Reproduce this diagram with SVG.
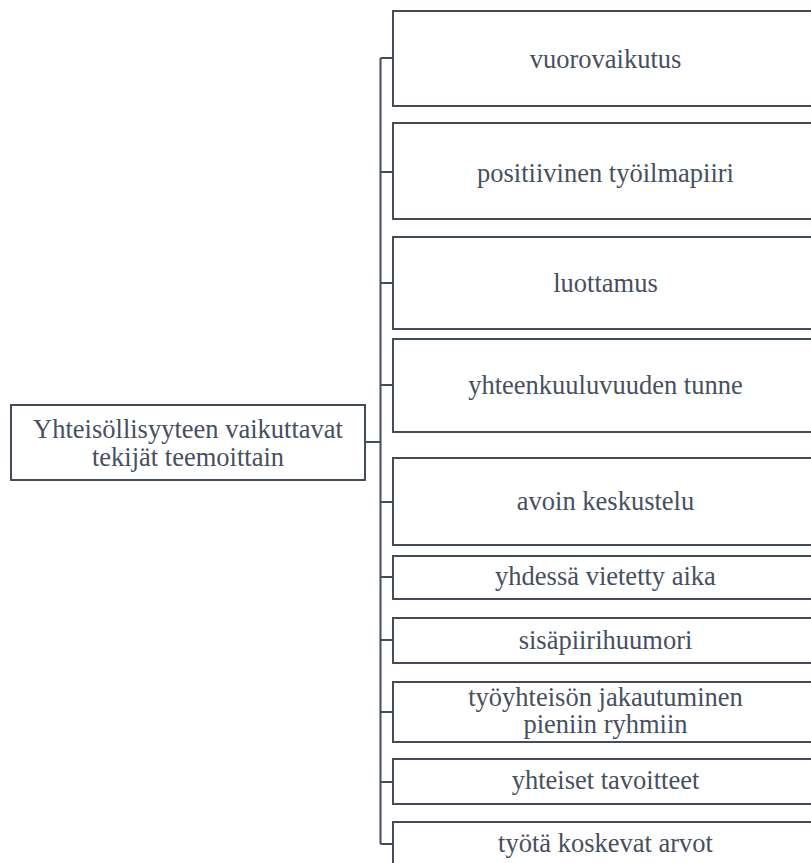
<svg xmlns="http://www.w3.org/2000/svg" width="811" height="863" viewBox="0 0 811 863">
<style>
.box{fill:#ffffff;stroke:#434c59;stroke-width:2}
.lbl{font-size:26.5px;fill:#465060;text-anchor:middle}
.conn{fill:none;stroke:#434c59;stroke-width:2}
</style>
<rect x="0" y="0" width="811" height="863" fill="#ffffff"/>
<g id="connectors">
<path class="conn" d="M365,442 H380.5 M380.5,58 V844 M380.5,58 H393 M380.5,172 H393 M380.5,283 H393 M380.5,385 H393 M380.5,502 H393 M380.5,577 H393 M380.5,640 H393 M380.5,712 H393 M380.5,782 H393 M380.5,844 H393"/>
</g>
<g font-family="'Liberation Serif', 'DejaVu Serif', serif">
<g id="root">
<rect class="box" x="11" y="405" width="354" height="75"/>
<text class="lbl" x="188" y="437.5" font-size="26px">Yhteisöllisyyteen vaikuttavat<tspan x="188" y="466">tekijät teemoittain</tspan></text>
</g>
<g id="n1">
<rect class="box" x="393" y="11" width="425" height="95"/>
<text class="lbl" x="605.5" y="67.5">vuorovaikutus</text>
</g>
<g id="n2">
<rect class="box" x="393" y="123" width="425" height="96"/>
<text class="lbl" x="605.5" y="181.5">positiivinen työilmapiiri</text>
</g>
<g id="n3">
<rect class="box" x="393" y="237" width="425" height="92"/>
<text class="lbl" x="605.5" y="291.5">luottamus</text>
</g>
<g id="n4">
<rect class="box" x="393" y="339" width="425" height="93"/>
<text class="lbl" x="605.5" y="393.5">yhteenkuuluvuuden tunne</text>
</g>
<g id="n5">
<rect class="box" x="393" y="458" width="425" height="87"/>
<text class="lbl" x="605.5" y="509.5">avoin keskustelu</text>
</g>
<g id="n6">
<rect class="box" x="393" y="556" width="425" height="43"/>
<text class="lbl" x="605.5" y="585">yhdessä vietetty aika</text>
</g>
<g id="n7">
<rect class="box" x="393" y="618" width="425" height="45"/>
<text class="lbl" x="605.5" y="648.5">sisäpiirihuumori</text>
</g>
<g id="n8">
<rect class="box" x="393" y="682" width="425" height="60"/>
<text class="lbl" x="605.5" y="705.5">työyhteisön jakautuminen<tspan x="605.5" y="732.5">pieniin ryhmiin</tspan></text>
</g>
<g id="n9">
<rect class="box" x="393" y="759" width="425" height="45"/>
<text class="lbl" x="605.5" y="788.5">yhteiset tavoitteet</text>
</g>
<g id="n10">
<rect class="box" x="393" y="822" width="425" height="70"/>
<text class="lbl" x="605.5" y="851.5">työtä koskevat arvot</text>
</g>
</g>
</svg>
